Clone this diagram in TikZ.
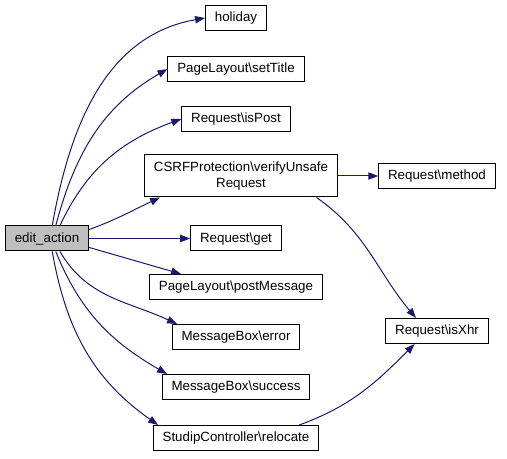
\documentclass[tikz,border=0pt]{standalone}
\usepackage{fontspec}
\setmainfont{Liberation Sans}
\usetikzlibrary{arrows.meta}
\definecolor{edgeblue}{HTML}{191970}
\definecolor{rootgray}{HTML}{BFBFBF}
\tikzset{
  fn/.style={draw, line width=0.75pt, font=\fontsize{10pt}{12pt}\selectfont, inner xsep=7pt, inner ysep=0pt, minimum height=18.75pt, text height=7.5pt, text depth=2pt},
  fntwo/.style={draw, line width=0.75pt, font=\fontsize{10pt}{12pt}\selectfont, inner xsep=7pt, inner ysep=0pt, minimum height=31.5pt, align=center},
  call/.style={draw=edgeblue, line width=0.75pt, -{Triangle[length=7.5pt,width=5.5pt,fill=edgeblue]}}
}
\begin{document}
\begin{tikzpicture}[x=0.75pt,y=0.75pt]
\useasboundingbox (0,0) rectangle (507,-459);

\node[fn,fill=rootgray] (edit) at (47,-238.5) {edit\_action};

\node[fn] (holiday) at (236,-18) {holiday};
\node[fn] (settitle) at (236,-69) {PageLayout\textbackslash setTitle};
\node[fn] (ispost) at (236,-119) {Request\textbackslash isPost};
\node[fntwo] (csrf) at (241,-176) {CSRFProtection\textbackslash verifyUnsafe\\Request};
\node[fn] (get) at (236,-238.5) {Request\textbackslash get};
\node[fn] (postmsg) at (236,-287) {PageLayout\textbackslash postMessage};
\node[fn] (error) at (236,-337) {MessageBox\textbackslash error};
\node[fn] (success) at (236,-387) {MessageBox\textbackslash success};
\node[fn] (relocate) at (236,-438) {StudipController\textbackslash relocate};

\node[fn] (method) at (437,-176) {Request\textbackslash method};
\node[fn] (isxhr) at (437,-331) {Request\textbackslash isXhr};

\draw[call] (edit.68) to[out=80,in=190] (holiday.west);
\draw[call] (edit.56) to[out=75,in=210] (settitle.west);
\draw[call] (edit.45) to[out=65,in=200] (ispost.west);
\draw[call] (edit.12) to[out=20,in=205] ([xshift=12pt]csrf.south west);
\draw[call] (edit.east) -- (get.west);
\draw[call] (edit.-12) -- ([xshift=24pt]postmsg.north west);
\draw[call] (edit.-45) to[out=-60,in=155] ([xshift=4pt]error.north west);
\draw[call] (edit.-56) to[out=-68,in=150] ([xshift=4pt]success.north west);
\draw[call] (edit.-68) to[out=-80,in=145] ([xshift=4pt]relocate.north west);

\draw[call] (csrf.east) -- (method.west);
\draw[call] ([xshift=-16pt]csrf.south east) to[out=-35,in=130] ([xshift=23pt]isxhr.north west);
\draw[call] ([xshift=-15pt]relocate.north east) to[out=20,in=225] ([xshift=22pt]isxhr.south west);
\end{tikzpicture}
\end{document}
